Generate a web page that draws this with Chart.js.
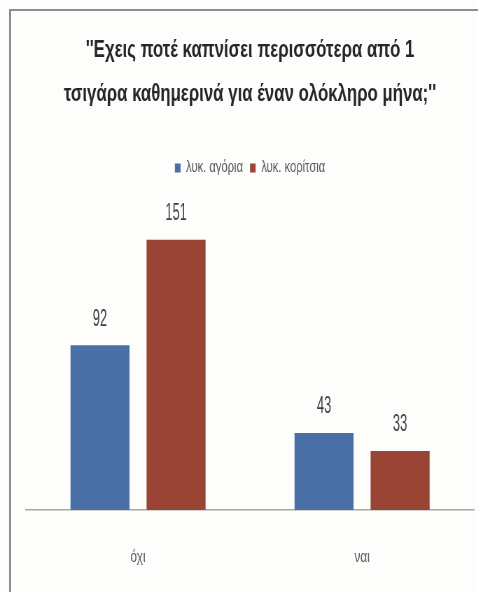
<!DOCTYPE html>
<html>
<head>
<meta charset="utf-8">
<script src="https://cdn.jsdelivr.net/npm/chart.js@4"></script>
<style>
    html, body { margin: 0; padding: 0; background: #fdfdfb; }
    #wrap { position: relative; width: 478px; height: 592px; overflow: hidden; }
    #frame {
        position: absolute; left: 9px; top: 9px; right: -4px; bottom: -4px;
        border-top: 2px solid #8e8e8e; border-left: 2px solid #8e8e8e;
        pointer-events: none;
    }
    canvas { position: absolute; left: 0; top: 0; transform-origin: 0 0; }
</style>
</head>
<body>
<div id="wrap">
    <canvas id="chart" height="592"></canvas>
    <div id="frame"></div>
</div>
<script>
// Δεδομένα
const categories = ['όχι', 'ναι'];
const seriesNames = ['λυκ. αγόρια', 'λυκ. κορίτσια'];
const boys = [92, 43];
const girls = [151, 33];
const titleLines = ["''Εχεις ποτέ καπνίσει περισσότερα από 1", "τσιγάρα καθημερινά για έναν ολόκληρο μήνα;''"];

const FONT = '"Liberation Sans", Arial, sans-serif';

// Στενή γραμματοσειρά: ο καμβάς σχεδιάζεται πλατύτερος και συμπιέζεται οριζόντια
const SQUEEZE = 0.7;
const canvas = document.getElementById('chart');
canvas.width = Math.round(478 / SQUEEZE);
canvas.style.transform = 'scaleX(' + SQUEEZE + ')';
const px = v => v / SQUEEZE;

// Τιμές πάνω από κάθε στήλη
const valueLabels = {
    id: 'valueLabels',
    afterDatasetsDraw(chart) {
        const ctx = chart.ctx;
        ctx.save();
        ctx.fillStyle = '#404040';
        ctx.font = '23px ' + FONT;
        ctx.textAlign = 'center';
        ctx.textBaseline = 'middle';
        chart.data.datasets.forEach((ds, i) => {
            chart.getDatasetMeta(i).data.forEach((bar, j) => {
                ctx.save();
                ctx.translate(bar.x, bar.y - 26);
                ctx.scale(0.8, 1);
                ctx.fillText(String(ds.data[j]), 0, 0);
                ctx.restore();
            });
        });
        ctx.restore();
    }
};

new Chart(canvas.getContext('2d'), {
    type: 'bar',
    data: {
        labels: categories,
        datasets: [
            {
                label: seriesNames[0],
                data: boys,
                backgroundColor: '#4a6fa6',
                barPercentage: 0.776,
                categoryPercentage: 0.679
            },
            {
                label: seriesNames[1],
                data: girls,
                backgroundColor: '#994435',
                barPercentage: 0.776,
                categoryPercentage: 0.679
            }
        ]
    },
    options: {
        responsive: false,
        devicePixelRatio: 1,
        animation: false,
        layout: {
            padding: { left: px(26), right: px(4), top: 0, bottom: 0 }
        },
        scales: {
            x: {
                grid: { display: false },
                border: { display: true, color: '#a8a8a8', width: 1.5 },
                ticks: {
                    color: '#595959',
                    padding: 29,
                    font: { family: FONT, size: 17 }
                },
                afterFit(scale) { scale.height = 82; }
            },
            y: {
                display: false,
                min: 0,
                max: 181
            }
        },
        plugins: {
            title: {
                display: true,
                text: titleLines,
                color: '#262626',
                font: { family: FONT, size: 24, weight: 'bold', lineHeight: 44 / 24 },
                padding: { top: 28, bottom: 34 }
            },
            legend: {
                position: 'top',
                labels: {
                    color: '#595959',
                    boxWidth: 8,
                    boxHeight: 9,
                    padding: 10,
                    font: { family: FONT, size: 16 }
                }
            },
            tooltip: { enabled: false }
        }
    },
    plugins: [valueLabels]
});
</script>
</body>
</html>
